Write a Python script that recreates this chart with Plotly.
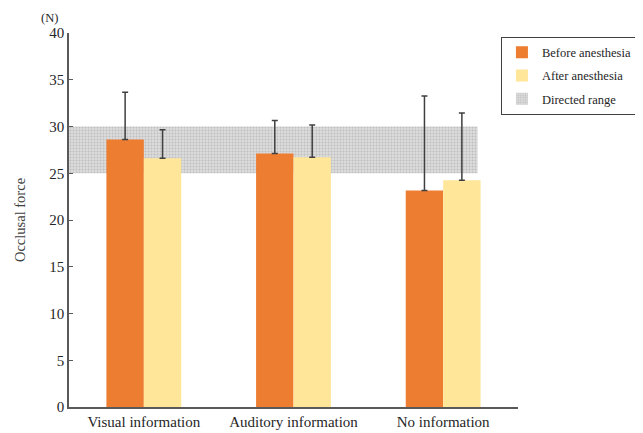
import plotly.graph_objects as go

categories = ["Visual information", "Auditory information", "No information"]
before = [28.6, 27.1, 23.15]
after = [26.6, 26.7, 24.25]
before_err = [5.05, 3.55, 10.1]
after_err = [3.05, 3.45, 7.2]
range_low = 25
range_high = 30

xs = list(range(len(categories)))
FONT = "Liberation Serif, Times New Roman, serif"

fig = go.Figure()

# Directed range band
fig.add_trace(go.Bar(
    x=[-0.5], y=[range_high - range_low], base=[range_low],
    width=[2.73], offset=0,
    marker=dict(color="#dcdcdc", line=dict(width=0),
                pattern=dict(shape=".", fgcolor="#a0a0a0", bgcolor="#dcdcdc", size=3, solidity=0.35)),
    name="Directed range", legendrank=3, legendgroup="c",
    hoverinfo="skip",
))

fig.add_trace(go.Bar(
    x=xs, y=before, width=0.25, offset=-0.25,
    marker=dict(color="#ED7D31", line=dict(width=0)),
    error_y=dict(type="data", array=before_err, arrayminus=[0]*3, symmetric=False,
                 color="#404040", thickness=1.5, width=3),
    name="Before anesthesia", legendrank=1, legendgroup="a",
))
fig.add_trace(go.Bar(
    x=xs, y=after, width=0.25, offset=0,
    marker=dict(color="#FFE699", line=dict(width=0)),
    error_y=dict(type="data", array=after_err, arrayminus=[0]*3, symmetric=False,
                 color="#404040", thickness=1.5, width=3),
    name="After anesthesia", legendrank=2, legendgroup="b",
))

fig.update_layout(
    width=635, height=425,
    margin=dict(l=61, r=125, t=25, b=26, autoexpand=False),
    plot_bgcolor="white", paper_bgcolor="white",
    barmode="overlay",
    font=dict(family=FONT, color="#262626", size=15),
    showlegend=True,
    legend=dict(x=0.962, y=0.99, xanchor="left", yanchor="top",
                bordercolor="#404040", borderwidth=1, bgcolor="white",
                font=dict(family=FONT, size=12.5, color="#262626"),
                tracegroupgap=4, traceorder="grouped"),
    xaxis=dict(range=[-0.5, 2.5], tickvals=xs, ticktext=categories,
               showline=True, linecolor="#595959", linewidth=1.5,
               ticks="", showgrid=False, zeroline=False, automargin=False,
               tickfont=dict(family=FONT, size=15, color="#262626")),
    yaxis=dict(range=[0, 40], dtick=5, showline=True, linecolor="#595959", linewidth=1.5,
               ticks="inside", ticklen=4, tickcolor="#595959",
               showgrid=False, zeroline=False, automargin=False,
               tickfont=dict(family=FONT, size=15, color="#262626"),
               title=dict(text="Occlusal force", font=dict(family=FONT, size=14.5, color="#404040"),
                          standoff=20)),
    annotations=[dict(text="(N)", xref="paper", yref="paper", x=-0.02, y=1.0, yshift=6,
                      xanchor="right", yanchor="bottom", showarrow=False,
                      font=dict(family=FONT, size=12.5, color="#262626"))],
)

fig.write_html("out.html")
